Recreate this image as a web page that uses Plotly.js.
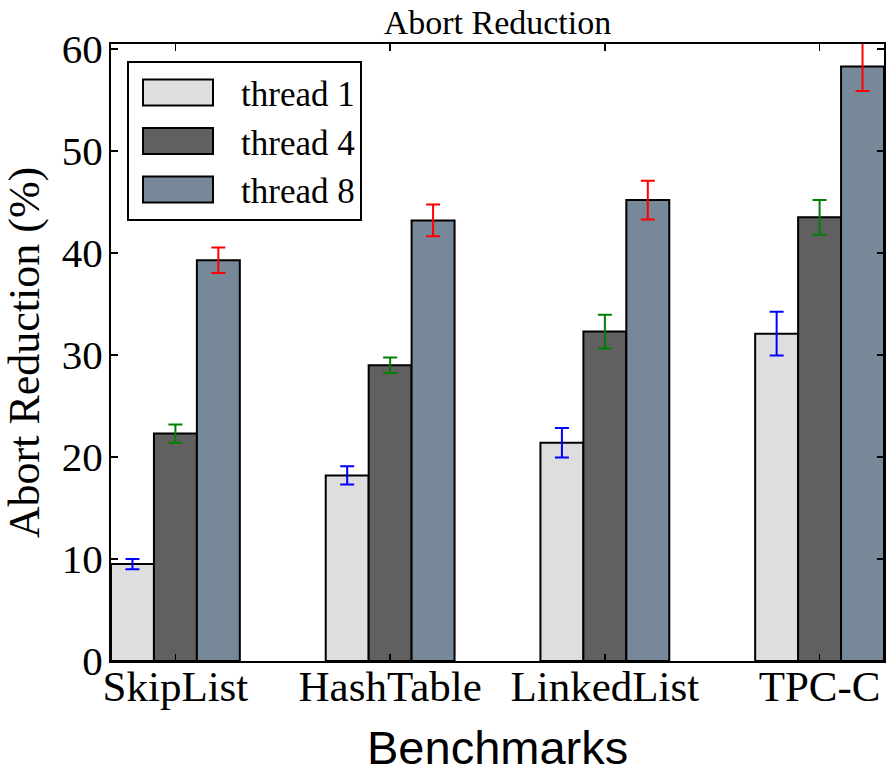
<!DOCTYPE html>
<html>
<head>
<meta charset="utf-8">
<script src="https://cdn.plot.ly/plotly-3.0.1.min.js"></script>
<style>html,body{margin:0;padding:0;background:#fff;}</style>
</head>
<body>
<div id="chart" style="width:886px;height:776px;"></div>
<script>
const categories = ["SkipList", "HashTable", "LinkedList", "TPC-C"];
const seriesNames = ["thread 1", "thread 4", "thread 8"];
const thread1 = [9.5, 18.2, 21.4, 32.1];
const thread1Err = [0.5, 0.9, 1.45, 2.15];
const thread4 = [22.3, 29.0, 32.3, 43.5];
const thread4Err = [0.9, 0.75, 1.65, 1.7];
const thread8 = [39.3, 43.2, 45.2, 58.3];
const thread8Err = [1.25, 1.55, 1.9, 2.4];
const yTicks = [0, 10, 20, 30, 40, 50, 60];

const fills = ["#dedede", "#606060", "#778899"];
const errColors = ["#0000ff", "#008000", "#ff0000"];
const vals = [thread1, thread4, thread8];
const errs = [thread1Err, thread4Err, thread8Err];

const serif = "Liberation Serif, Times New Roman, serif";

const traces = seriesNames.map((name, i) => ({
  type: "bar",
  name: name,
  x: categories,
  y: vals[i],
  marker: { color: fills[i], line: { color: "#000", width: 2 } },
  error_y: { type: "data", array: errs[i], visible: true, color: errColors[i], thickness: 2, width: 7 },
  hoverinfo: "x+y+name"
}));

const layout = {
  width: 886,
  height: 776,
  margin: { l: 111, r: 2, t: 44, b: 115 },
  paper_bgcolor: "#fff",
  plot_bgcolor: "#fff",
  barmode: "group",
  bargap: 0.4,
  bargroupgap: 0,
  title: {
    text: "Abort Reduction",
    font: { family: serif, size: 34, color: "#000" },
    x: 0.5615, xanchor: "center",
    y: 0.971, yref: "container", yanchor: "middle"
  },
  xaxis: {
    type: "category",
    range: [-0.3, 3.3],
    ticks: "inside",
    ticklen: 7,
    tickwidth: 1.5,
    tickcolor: "#000",
    showline: true,
    linecolor: "#000",
    linewidth: 2,
    mirror: "ticks",
    showgrid: false,
    tickfont: { family: serif, size: 43, color: "#000" },
    ticklabelstandoff: -14,
    automargin: false
  },
  yaxis: {
    range: [0, 60.5],
    tickvals: yTicks,
    ticktext: yTicks.map(String),
    ticks: "inside",
    ticklen: 7,
    tickwidth: 1.5,
    tickcolor: "#000",
    showline: true,
    linecolor: "#000",
    linewidth: 2,
    mirror: "ticks",
    showgrid: false,
    zeroline: false,
    tickfont: { family: serif, size: 41, color: "#000" },
    ticklabelstandoff: -2,
    title: { text: "Abort Reduction (%)", font: { family: serif, size: 44, color: "#000" } },
    automargin: false
  },
  annotations: [{
    text: "Benchmarks",
    xref: "paper", yref: "paper",
    x: 0.5, y: -0.14,
    xanchor: "center", yanchor: "middle",
    showarrow: false,
    borderpad: 0,
    font: { family: "Liberation Sans, Arial, sans-serif", size: 47, color: "#000" }
  }],
  showlegend: true,
  legend: {
    x: 0.0207, xanchor: "left",
    y: 0.972, yanchor: "top",
    bgcolor: "#fff",
    bordercolor: "#000",
    borderwidth: 2,
    font: { family: serif, size: 35, color: "#000" },
    itemwidth: 102,
    traceorder: "normal"
  }
};

Plotly.newPlot("chart", traces, layout, { displayModeBar: false, staticPlot: true }).then(() => {
  document.querySelectorAll(".legendpoints path").forEach(p => {
    p.setAttribute("d", "M-42,-13H28V13H-42Z");
  });
});
</script>
</body>
</html>
